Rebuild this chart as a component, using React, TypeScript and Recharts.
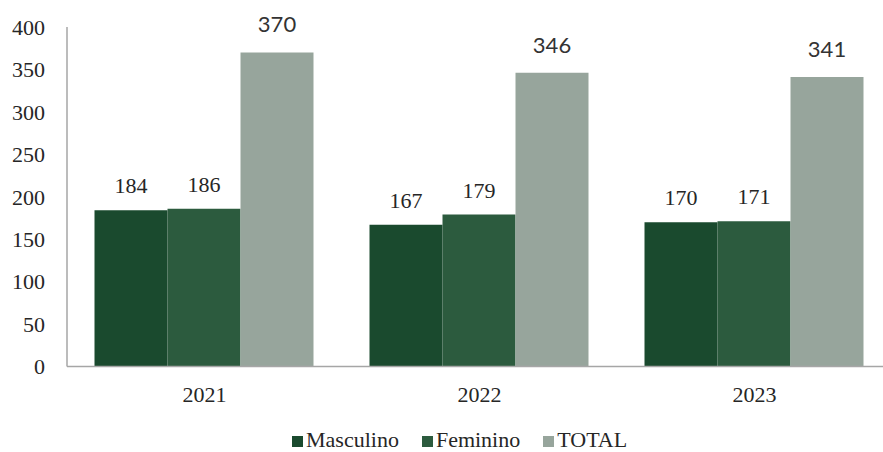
import React from 'react';
import { Bar, BarChart, LabelList, Legend, XAxis, YAxis } from 'recharts';

const years = ['2021', '2022', '2023'];
const masculino = [184, 167, 170];
const femenino = [186, 179, 171];
const total = [370, 346, 341];
const yTicks = [0, 50, 100, 150, 200, 250, 300, 350, 400];

const series = [
  { key: 'Masculino', color: '#1a4a2e' },
  { key: 'Feminino', color: '#2c5b3e' },
  { key: 'TOTAL', color: '#97a59c' },
];

const data = years.map((year, i) => ({
  year,
  Masculino: masculino[i],
  Feminino: femenino[i],
  TOTAL: total[i],
}));

const serif = '"Liberation Serif", "Times New Roman", serif';

const LegendBox = () => (
  <div style={{ display: 'flex', alignItems: 'baseline', fontFamily: serif, fontSize: 22, lineHeight: 'normal', color: '#262626' }}>
    {series.map((s, i) => (
      <span key={s.key} style={{ marginRight: i < series.length - 1 ? 23 : 0, whiteSpace: 'nowrap' }}>
        <span style={{ display: 'inline-block', width: 11, height: 11, background: s.color, marginRight: 3 }} />
        {s.key}
      </span>
    ))}
  </div>
);

const App: React.FC = () => {
  return (
    <div style={{ position: 'absolute', left: 0, top: 0, width: 883, height: 452, overflow: 'hidden', background: '#fff' }}>
      <BarChart
        width={892}
        height={452}
        data={data}
        margin={{ top: 27, right: 0, left: 0, bottom: 0 }}
        barCategoryGap="10%"
        barGap={0}
      >
        <XAxis
          dataKey="year"
          height={85.5}
          tickLine={false}
          tickMargin={14}
          axisLine={{ stroke: '#a6a6a6', strokeWidth: 1.5 }}
          tick={{ fontFamily: serif, fontSize: 22, fill: '#262626' }}
        />
        <YAxis
          width={67}
          domain={[0, 400]}
          ticks={yTicks}
          interval={0}
          tickLine={false}
          tickMargin={16}
          axisLine={{ stroke: '#a6a6a6', strokeWidth: 1.5 }}
          tick={{ fontFamily: serif, fontSize: 22, fill: '#262626' }}
        />
        <Legend
          layout="horizontal"
          verticalAlign="middle"
          align="center"
          content={<LegendBox />}
          wrapperStyle={{ top: 427, left: 292, width: 420, height: 25 }}
        />
        {series.map((s) => (
          <Bar key={s.key} dataKey={s.key} fill={s.color} isAnimationActive={false}>
            <LabelList
              dataKey={s.key}
              position="top"
              offset={s.key === 'TOTAL' ? 20 : 17}
              style={{
                fontFamily: s.key === 'TOTAL' ? 'Lato, "Open Sans", sans-serif' : serif,
                fontSize: 22,
                fill: s.key === 'TOTAL' ? '#333333' : '#262626',
              }}
            />
          </Bar>
        ))}
      </BarChart>
    </div>
  );
};

export default App;
